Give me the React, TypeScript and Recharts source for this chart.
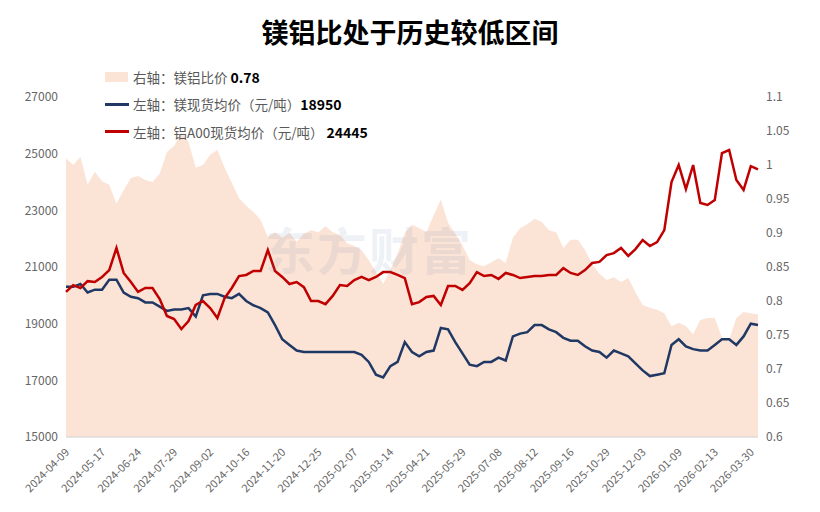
import React from 'react';
import { ComposedChart, Area, Line, XAxis, YAxis } from 'recharts';

const FONT = '"Noto Sans CJK SC", "Noto Sans", sans-serif';

const tickLabels = [
  '2024-04-09', '2024-05-17', '2024-06-24', '2024-07-29', '2024-09-02',
  '2024-10-16', '2024-11-20', '2024-12-25', '2025-02-07', '2025-03-14',
  '2025-04-21', '2025-05-29', '2025-07-08', '2025-08-12', '2025-09-16',
  '2025-10-29', '2025-12-03', '2026-01-09', '2026-02-13', '2026-03-30',
];

// 镁铝比价 (right axis), sampled every 5 trading days
const ratioValues = [
  1.010, 1.000, 1.012, 0.971, 0.990, 0.976, 0.971, 0.943, 0.963, 0.981,
  0.984, 0.978, 0.975, 0.987, 1.019, 1.028, 1.047, 1.034, 0.996, 1.000,
  1.015, 1.022, 0.996, 0.974, 0.951, 0.940, 0.931, 0.919, 0.894, 0.901,
  0.893, 0.900, 0.887, 0.899, 0.904, 0.901, 0.910, 0.901, 0.897, 0.885,
  0.881, 0.875, 0.860, 0.843, 0.825, 0.846, 0.869, 0.900, 0.912, 0.907,
  0.901, 0.926, 0.949, 0.915, 0.899, 0.882, 0.860, 0.854, 0.851, 0.857,
  0.863, 0.856, 0.893, 0.907, 0.913, 0.921, 0.916, 0.904, 0.901, 0.878,
  0.890, 0.890, 0.875, 0.854, 0.840, 0.831, 0.835, 0.828, 0.834, 0.813,
  0.794, 0.790, 0.787, 0.782, 0.763, 0.768, 0.763, 0.751, 0.772, 0.775,
  0.775, 0.746, 0.743, 0.775, 0.784, 0.782, 0.78,
];

// 镁现货均价 (元/吨)
const mgValues = [
  20300, 20300, 20400, 20100, 20200, 20200, 20550, 20550, 20100, 19950,
  19900, 19750, 19750, 19600, 19450, 19500, 19500, 19550, 19250, 20000,
  20050, 20050, 19950, 19900, 20050, 19800, 19650, 19550, 19400, 18950,
  18450, 18250, 18050, 18000, 18000, 18000, 18000, 18000, 18000, 18000,
  18000, 17900, 17650, 17200, 17100, 17500, 17650, 18350, 18000, 17850,
  18000, 18050, 18850, 18800, 18350, 17950, 17550, 17500, 17650, 17650,
  17800, 17700, 18550, 18650, 18700, 18950, 18950, 18800, 18700, 18500,
  18400, 18400, 18200, 18050, 18000, 17800, 18050, 17950, 17850, 17600,
  17350, 17150, 17200, 17250, 18250, 18450, 18200, 18100, 18050, 18050,
  18250, 18450, 18450, 18250, 18550, 19000, 18950,
];

// 铝A00现货均价 (元/吨)
const alValues = [
  20120, 20360, 20260, 20500, 20470, 20650, 20890, 21670, 20790, 20470,
  20120, 20260, 20260, 19870, 19270, 19160, 18810, 19090, 19660, 19800,
  19550, 19200, 19900, 20260, 20680, 20720, 20860, 20860, 21600, 20860,
  20650, 20400, 20470, 20290, 19800, 19800, 19690, 19980, 20360, 20330,
  20540, 20650, 20540, 20650, 20820, 20820, 20720, 20610, 19690, 19760,
  19940, 19980, 19660, 20330, 20330, 20190, 20430, 20820, 20680, 20720,
  20580, 20790, 20720, 20610, 20650, 20680, 20680, 20720, 20720, 20960,
  20790, 20720, 20890, 21140, 21180, 21420, 21490, 21670, 21390, 21630,
  21950, 21740, 21880, 22300, 24000, 24600, 23750, 24600, 23260, 23190,
  23360, 25020, 25130, 24070, 23720, 24560, 24445,
];

const leftTicks = [15000, 17000, 19000, 21000, 23000, 25000, 27000];
const rightTicks = [0.6, 0.65, 0.7, 0.75, 0.8, 0.85, 0.9, 0.95, 1, 1.05, 1.1];
const STEP = 5;

const data = ratioValues.map((r, i) => ({ i, ratio: r, mg: mgValues[i], al: alValues[i] }));
const xTicks = tickLabels.map((_, j) => j * STEP);

const XTick = (props: any) => {
  const { x, y, payload } = props;
  const idx = Math.round(payload.value / STEP);
  const ax = x + 4;
  const ay = y + 16;
  return (
    <text
      x={ax}
      y={ay}
      transform={`rotate(-45 ${ax} ${ay})`}
      textAnchor="end"
      fontSize={11}
      fill="#666"
      fontFamily={FONT}
    >
      {tickLabels[idx]}
    </text>
  );
};

const legendText: React.CSSProperties = { fontSize: 13.5, color: '#595959' };
const legendNum: React.CSSProperties = { fontSize: 14, color: '#000', fontWeight: 700 };
const row: React.CSSProperties = { height: 27.5, display: 'flex', alignItems: 'center', whiteSpace: 'nowrap' };

export default function App() {
  return (
    <div style={{ position: 'relative', width: 804, height: 496, fontFamily: FONT, background: '#fff' }}>
      <ComposedChart width={804} height={496} data={data} margin={{ top: 89, right: 0, bottom: 0, left: 0 }}>
        <XAxis
          dataKey="i"
          type="number"
          domain={[0, 96]}
          ticks={xTicks}
          interval={0}
          tick={<XTick />}
          tickLine={false}
          tickSize={0}
          tickMargin={0}
          axisLine={{ stroke: '#d0d0d0' }}
          height={67}
        />
        <YAxis
          yAxisId="left"
          orientation="left"
          domain={[15000, 27000]}
          ticks={leftTicks}
          interval={0}
          width={58}
          axisLine={false}
          tickLine={false}
          tick={{ fontSize: 12, fill: '#666', fontFamily: FONT }}
        />
        <YAxis
          yAxisId="right"
          orientation="right"
          domain={[0.6, 1.1]}
          ticks={rightTicks}
          interval={0}
          width={54}
          axisLine={false}
          tickLine={false}
          tick={{ fontSize: 12, fill: '#666', fontFamily: FONT }}
        />
        <Area
          yAxisId="right"
          dataKey="ratio"
          type="linear"
          fill="#fbe3d6"
          fillOpacity={1}
          stroke="none"
          baseValue={0.6}
          isAnimationActive={false}
        />
        <Line
          yAxisId="left"
          dataKey="mg"
          type="linear"
          stroke="#203864"
          strokeWidth={2.5}
          dot={false}
          isAnimationActive={false}
        />
        <Line
          yAxisId="left"
          dataKey="al"
          type="linear"
          stroke="#c00000"
          strokeWidth={2.5}
          dot={false}
          isAnimationActive={false}
        />
      </ComposedChart>

      <div
        style={{
          position: 'absolute', top: 8, left: 0, width: 804, textAlign: 'center',
          fontSize: 27, fontWeight: 700, lineHeight: '32px', color: '#000',
        }}
      >
        镁铝比处于历史较低区间
      </div>

      <div style={{ position: 'absolute', top: 55, left: 97 }}>
        <div style={row}>
          <span style={{ display: 'inline-block', width: 23, height: 10, background: '#fbe3d6', marginRight: 5 }} />
          <span style={legendText}>右轴：镁铝比价&nbsp;</span>
          <span style={legendNum}>0.78</span>
        </div>
        <div style={row}>
          <span style={{ display: 'inline-block', width: 24, height: 3, background: '#203864', marginRight: 4 }} />
          <span style={legendText}>左轴：镁现货均价（元/吨）</span>
          <span style={legendNum}>18950</span>
        </div>
        <div style={row}>
          <span style={{ display: 'inline-block', width: 24, height: 3, background: '#c00000', marginRight: 4 }} />
          <span style={legendText}>左轴：铝A00现货均价（元/吨）&nbsp;</span>
          <span style={legendNum}>24445</span>
        </div>
      </div>

      <div
        style={{
          position: 'absolute', top: 212, left: 257, fontSize: 50, lineHeight: '56px',
          color: 'rgba(90,130,170,0.10)', fontWeight: 700, letterSpacing: 2, pointerEvents: 'none',
        }}
      >
        东方财富
      </div>
    </div>
  );
}
